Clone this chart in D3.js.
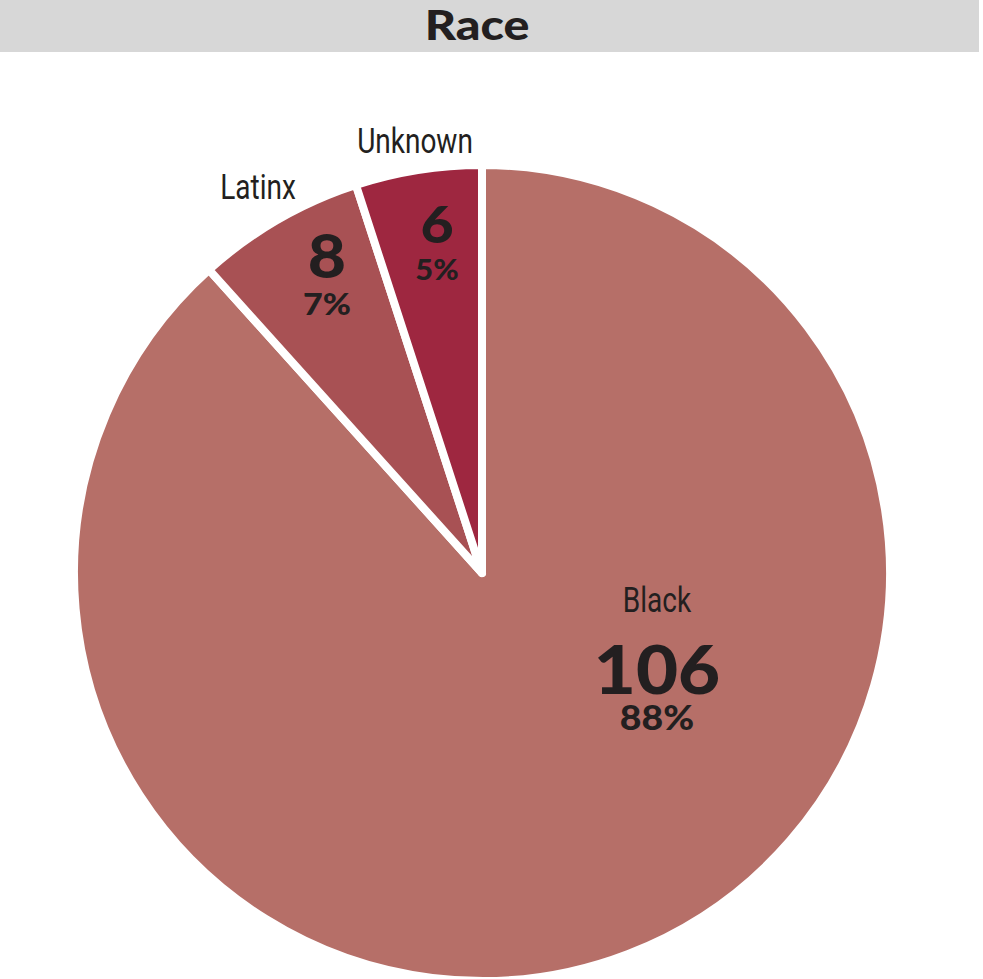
<!DOCTYPE html>
<html>
<head>
<meta charset="utf-8">
<script src="https://cdn.jsdelivr.net/npm/d3@7"></script>
<style>
  body { margin: 0; background: #fff; }
  .heavy { font-family: "Lato", "DejaVu Sans", sans-serif; font-weight: 900; fill: #231f20; }
  .narrow { font-family: "Roboto", "Liberation Sans", sans-serif; fill: #231f20; }
</style>
</head>
<body>
<div id="chart"></div>
<script>
// data
var categories = ["Black", "Latinx", "Unknown"];
var counts = [106, 8, 6];
var percents = ["88%", "7%", "5%"];
var colors = ["#b66f68", "#a85154", "#9e2740"];

(function() {
    var width = 983, height = 979;
    var cx = 482, cy = 573, radius = 408;

    // label spots (hand placed like the original layout)
    var numPos = [[657, 694], [327, 278], [437, 243]];
    var numSize = [66, 60, 52];
    var pctSize = [34, 31, 28];
    var pctGap = [36, 37, 37];
    var namePos = [[657, 612], [258, 199], [415, 153]];

    var svg = d3.select("#chart").append("svg")
        .attr("width", width)
        .attr("height", height);

    // title bar
    svg.append("rect")
        .attr("x", 0).attr("y", 0)
        .attr("width", 979).attr("height", 52)
        .attr("fill", "#d7d7d7");

    svg.append("g")
        .attr("transform", "translate(477,40) scale(1.18,1)")
      .append("text")
        .attr("class", "heavy")
        .attr("text-anchor", "middle")
        .style("font-size", "41px")
        .text("Race");

    var pie = d3.pie().sort(null).value(function(d) { return d; });
    var arc = d3.arc().innerRadius(0).outerRadius(radius);

    var g = svg.append("g")
        .attr("transform", "translate(" + cx + "," + cy + ")");

    g.selectAll("path")
        .data(pie(counts))
        .enter().append("path")
        .attr("d", arc)
        .attr("fill", function(d, i) { return colors[i]; })
        .attr("stroke", "#fff")
        .attr("stroke-width", 8)
        .attr("stroke-linejoin", "round");

    //names (condensed look)
    svg.selectAll(".name")
        .data(categories)
        .enter().append("g")
        .attr("class", "name")
        .attr("transform", function(d, i) {
            return "translate(" + namePos[i][0] + "," + namePos[i][1] + ") scale(0.8,1)";
        })
      .append("text")
        .attr("class", "narrow")
        .attr("text-anchor", "middle")
        .style("font-size", "35px")
        .text(function(d) { return d; });

    //counts + percents, one text each
    var lbl = svg.selectAll(".num")
        .data(counts)
        .enter().append("g")
        .attr("class", "num")
        .attr("transform", function(d, i) {
            return "translate(" + numPos[i][0] + "," + numPos[i][1] + ") scale(1.1,1)";
        })
      .append("text")
        .attr("class", "heavy")
        .attr("text-anchor", "middle");

    lbl.append("tspan")
        .attr("x", 0)
        .style("font-size", function(d, i) { return numSize[i] + "px"; })
        .text(function(d) { return d; });

    lbl.append("tspan")
        .attr("x", 0)
        .attr("dy", function(d, i) { return pctGap[i]; })
        .style("font-size", function(d, i) { return pctSize[i] + "px"; })
        .text(function(d, i) { return percents[i]; });
})();
</script>
</body>
</html>
